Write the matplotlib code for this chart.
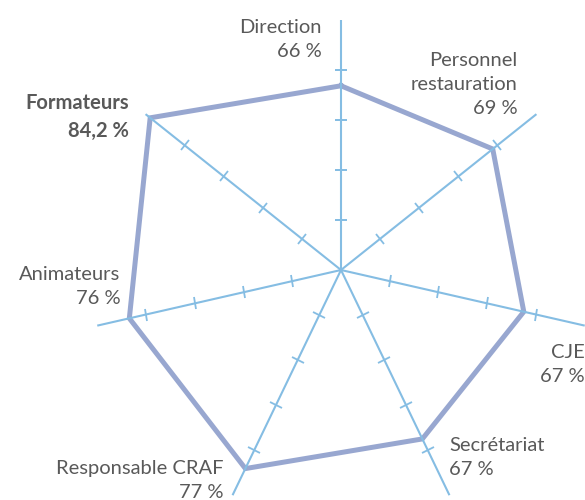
import matplotlib.pyplot as plt
import numpy as np
from matplotlib.markers import MarkerStyle
from matplotlib.transforms import Affine2D

categories = ["Direction", "Personnel\nrestauration", "CJE", "Secrétariat",
              "Responsable CRAF", "Animateurs", "Formateurs"]
values = [66, 69, 67, 67, 77, 76, 84.2]
value_labels = ["66 %", "69 %", "67 %", "67 %", "77 %", "76 %", "84,2 %"]

# radial axis
r_min, r_max = 10, 86
r_ticks = [10 + 15.2 * k for k in range(1, 5)]

# label placement: offset in pixels from the point, alignment
label_offsets = [(-19, 46, "right"), (25, 64, "right"), (61, -53, "right"),
                 (27, -19, "left"), (-22, -12, "right"), (-9, 32, "right"),
                 (-21, 1, "right")]

line_col = "#98a7d0"
spoke_col = "#85bde3"
text_col = "#595959"

plt.rcParams['font.family'] = ['Lato', 'DejaVu Sans']

fig = plt.figure(figsize=(5.85, 5.0), dpi=100)
ax = fig.add_axes([91 / 585, -20 / 500, 500 / 585, 500 / 500], projection="polar")
ax.set_theta_zero_location("N")
ax.set_theta_direction(-1)
ax.set_ylim(r_min, r_max)
ax.grid(False)
ax.set_xticks([])
ax.set_yticks([])
ax.spines["polar"].set_visible(False)
ax.patch.set_alpha(0)

n = len(categories)
angles = np.arange(n) * 2 * np.pi / n

# polygon
ax.plot(np.append(angles, angles[0]), values + values[:1], color=line_col,
        lw=3.6, solid_joinstyle="miter", zorder=2)

# spokes with ticks
for a in angles:
    ax.plot([a, a], [r_min, r_max], color=spoke_col, lw=1.5, zorder=3)
    m = MarkerStyle("_", transform=Affine2D().rotate_deg(-np.degrees(a)))
    ax.plot([a] * len(r_ticks), r_ticks, ls="none", marker=m, ms=9,
            mew=1.3, color=spoke_col, zorder=3)

for i in range(n):
    dx, dy, ha = label_offsets[i]
    bold = categories[i] == "Formateurs"
    ax.annotate(categories[i] + "\n" + value_labels[i], xy=(angles[i], values[i]),
                xytext=(dx, dy), textcoords="offset pixels", ha=ha, va="center",
                fontsize=14.5, color=text_col, linespacing=1.5,
                fontweight="bold" if bold else "normal", annotation_clip=False)

plt.savefig("out.png", dpi=100)
